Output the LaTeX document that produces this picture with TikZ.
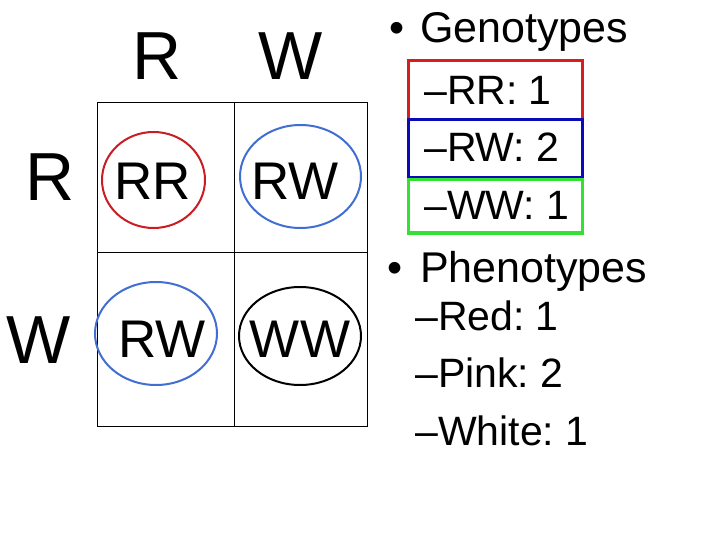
\documentclass[tikz,border=0pt]{standalone}
\usepackage{fontspec}
\setmainfont{Liberation Sans}
\frenchspacing
\definecolor{ellred}{RGB}{200,30,35}
\definecolor{ellblue}{RGB}{65,110,210}
\definecolor{boxred}{RGB}{215,30,30}
\definecolor{boxblue}{RGB}{10,10,185}
\definecolor{boxgreen}{RGB}{50,225,50}
\begin{document}
\begin{tikzpicture}[x=1pt,y=-1pt,
  hdr/.style={inner sep=0pt,anchor=base,font=\fontsize{68}{68}\selectfont\frenchspacing},
  cell/.style={inner sep=0pt,anchor=base,font=\fontsize{53}{53}\selectfont\frenchspacing},
  bul/.style={inner sep=0pt,anchor=base west,font=\fontsize{43}{43}\selectfont\frenchspacing},
  sub/.style={inner sep=0pt,anchor=base west,font=\fontsize{41}{41}\selectfont\frenchspacing},
  grid/.style={draw=black,line width=1pt},
  ring/.style={line width=2pt},
  gbox/.style={line width=3pt}]
\useasboundingbox (0,0) rectangle (720,540);
\fill[white] (0,0) rectangle (720,540);
% grid
\draw[grid] (97,103) rectangle (367,426);
\draw[grid] (234,103) -- (234,426);
\draw[grid] (97,252) -- (367,252);
% headers
\node[hdr] (cR) at (157,80) {R};
\node[hdr] (cW) at (291,80) {W};
\node[hdr] (rR) at (50,201) {R};
\node[hdr] (rW) at (39,363) {W};
% cells
\node[cell] (RR) at (153,200) {RR};
\node[cell] (RW1) at (295,200) {RW};
\node[cell] (RW2) at (162,357) {RW};
\node[cell] (WW) at (300,357) {WW};
\draw[ring,ellred] (153.5,180) ellipse [x radius=51.5,y radius=48];
\draw[ring,ellblue] (300.5,176.5) ellipse [x radius=60.5,y radius=51.5];
\draw[ring,ellblue] (156,333.5) ellipse [x radius=61,y radius=51.5];
\draw[ring,black] (300,336) ellipse [x radius=61,y radius=49];
% right text
\node[bul] (b1) at (389,43) {•};
\node[bul] (gen) at (420,43) {Genotypes};
\draw[gbox,boxred] (408,61) rectangle (582,120);
\draw[gbox,boxblue] (408,120) rectangle (582,178);
\draw[gbox,boxgreen] (408,180) rectangle (582,233);
\node[sub] (g1) at (424,105) {–RR: 1};
\node[sub] (g2) at (424,162) {–RW: 2};
\node[sub] (g3) at (424,220) {–WW: 1};
\node[bul] (b2) at (387,282) {•};
\node[bul] (phe) at (420,282) {Phenotypes};
\node[sub] (p1) at (415,330) {–Red: 1};
\node[sub] (p2) at (415,387) {–Pink: 2};
\node[sub] (p3) at (415,445) {–White: 1};
\end{tikzpicture}
\end{document}
